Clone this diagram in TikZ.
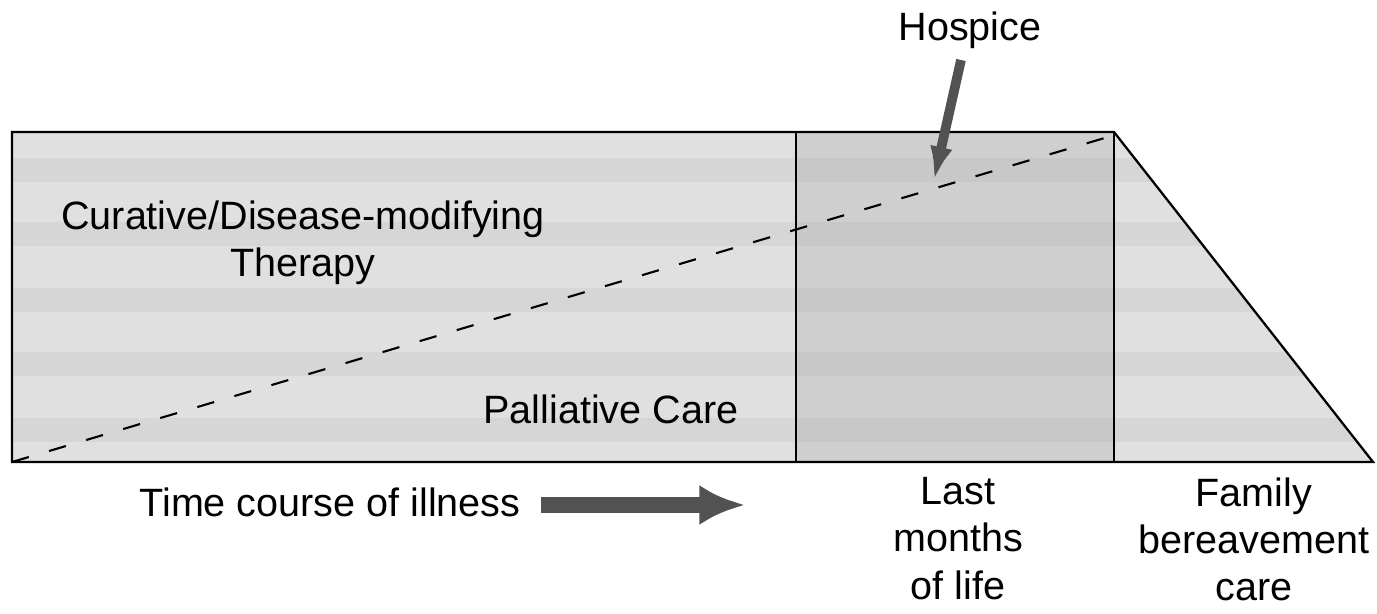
\documentclass[tikz,border=0pt]{standalone}
\usepackage{fontspec}
\setmainfont{Liberation Sans}
\usetikzlibrary{arrows.meta}
\tikzset{>=latex}
\usepackage{xcolor}
\colorlet{paper}{gray!24}
\colorlet{paperdark}{gray!38}
\colorlet{arrowgray}{black!68}
\tikzstyle{label}=[inner sep=0pt,align=center,font=\fontsize{22.5}{27}\selectfont]
\tikzstyle{band}=[gray!70,opacity=0.16]
\tikzstyle{bigarrow}=[arrowgray,-{Latex[length=26pt,width=23pt]},line width=9pt]

\begin{document}
\begin{tikzpicture}[x=0.02cm,y=-0.02cm]
  \useasboundingbox (0,0) rectangle (1377,613);

  \coordinate (SW)  at (  12,462); % SOUTH WEST
  \coordinate (NW)  at (  12,132); % NORTH WEST
  \coordinate (M1S) at ( 796,462);
  \coordinate (M1N) at ( 796,132);
  \coordinate (M2S) at (1114,462);
  \coordinate (M2N) at (1114,132);
  \coordinate (SE)  at (1373,462); % SOUTH EAST
  \coordinate (DE)  at (1108,137); % END OF DASHED LINE

  % SHADED AREAS
  \fill[paper] (NW) rectangle (M1S);
  \fill[paperdark] (M1N) rectangle (M2S);
  \fill[paper] (M2N) -- (SE) -- (M2S) -- cycle;
  \begin{scope}
    \clip (NW) -- (M2N) -- (SE) -- (SW) -- cycle;
    \foreach \y in {158,222,288,352,418}{
      \fill[band] (12,\y) rectangle (1373,\y+24);
    }
  \end{scope}

  % OUTLINE
  \draw[line width=1.3pt] (SW) -- (NW) -- (M2N) -- (SE) -- cycle;
  \draw[line width=0.9pt] (M1N) -- (M1S) (M2N) -- (M2S);
  \draw[line width=1.2pt,dash pattern=on 10pt off 12pt] (SW) -- (DE);

  % LABELS
  \node[label,anchor=north] (cure) at (303,200) {Curative/Disease-modifying\\Therapy};
  \node[label,anchor=base] (palliative) at (611,423) {Palliative Care};
  \node[label,anchor=base] (hospice) at (970,40) {Hospice};
  \node[label,anchor=north] (time) at (330,487) {Time course of illness};
  \node[label,anchor=north] (last) at (958,477) {Last\\months\\of life};
  \node[label,anchor=north] (family) at (1254,477) {Family\\bereavement\\care};

  % ARROWS
  \coordinate (hospTail) at (961,60);
  \coordinate (hospTip)  at (934,180);
  \draw[arrowgray,-{Latex[length=19pt,width=13pt]},line width=5.5pt] (hospTail) -- (hospTip);
  \coordinate (timeTail) at (541,505);
  \coordinate (timeTip)  at (745,505);
  \draw[bigarrow] (timeTail) -- (timeTip);

\end{tikzpicture}
\end{document}
